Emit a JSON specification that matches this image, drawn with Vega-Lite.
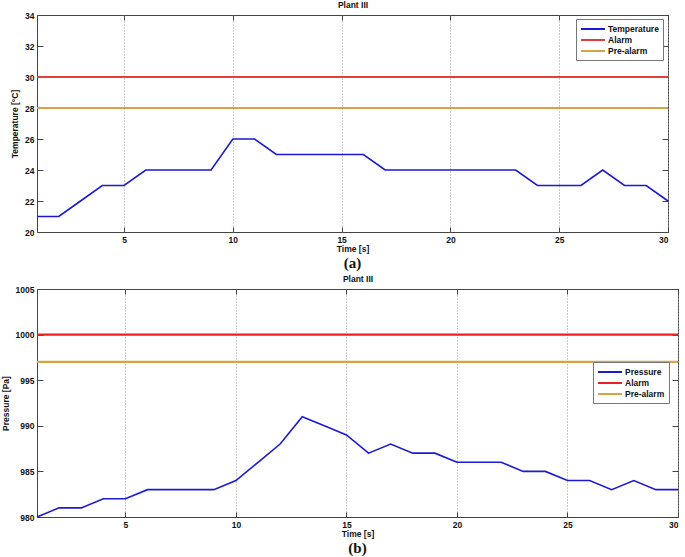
{
  "$schema": "https://vega.github.io/schema/vega-lite/v6.json",
  "padding": {"left": 0, "top": 0, "right": 5, "bottom": 0},
  "background": "white",
  "datasets": {
    "temperature": [
      {"t":1,"v":21,"s":"Temperature"},{"t":2,"v":21,"s":"Temperature"},{"t":3,"v":22,"s":"Temperature"},{"t":4,"v":23,"s":"Temperature"},{"t":5,"v":23,"s":"Temperature"},
      {"t":6,"v":24,"s":"Temperature"},{"t":7,"v":24,"s":"Temperature"},{"t":8,"v":24,"s":"Temperature"},{"t":9,"v":24,"s":"Temperature"},{"t":10,"v":26,"s":"Temperature"},
      {"t":11,"v":26,"s":"Temperature"},{"t":12,"v":25,"s":"Temperature"},{"t":13,"v":25,"s":"Temperature"},{"t":14,"v":25,"s":"Temperature"},{"t":15,"v":25,"s":"Temperature"},
      {"t":16,"v":25,"s":"Temperature"},{"t":17,"v":24,"s":"Temperature"},{"t":18,"v":24,"s":"Temperature"},{"t":19,"v":24,"s":"Temperature"},{"t":20,"v":24,"s":"Temperature"},
      {"t":21,"v":24,"s":"Temperature"},{"t":22,"v":24,"s":"Temperature"},{"t":23,"v":24,"s":"Temperature"},{"t":24,"v":23,"s":"Temperature"},{"t":25,"v":23,"s":"Temperature"},
      {"t":26,"v":23,"s":"Temperature"},{"t":27,"v":24,"s":"Temperature"},{"t":28,"v":23,"s":"Temperature"},{"t":29,"v":23,"s":"Temperature"},{"t":30,"v":22,"s":"Temperature"}
    ],
    "tempLimits": [
      {"t":1,"v":30,"s":"Alarm"},{"t":30,"v":30,"s":"Alarm"},
      {"t":1,"v":28,"s":"Pre-alarm"},{"t":30,"v":28,"s":"Pre-alarm"}
    ],
    "pressure": [
      {"t":1,"v":980,"s":"Pressure"},{"t":2,"v":981,"s":"Pressure"},{"t":3,"v":981,"s":"Pressure"},{"t":4,"v":982,"s":"Pressure"},{"t":5,"v":982,"s":"Pressure"},
      {"t":6,"v":983,"s":"Pressure"},{"t":7,"v":983,"s":"Pressure"},{"t":8,"v":983,"s":"Pressure"},{"t":9,"v":983,"s":"Pressure"},{"t":10,"v":984,"s":"Pressure"},
      {"t":11,"v":986,"s":"Pressure"},{"t":12,"v":988,"s":"Pressure"},{"t":13,"v":991,"s":"Pressure"},{"t":14,"v":990,"s":"Pressure"},{"t":15,"v":989,"s":"Pressure"},
      {"t":16,"v":987,"s":"Pressure"},{"t":17,"v":988,"s":"Pressure"},{"t":18,"v":987,"s":"Pressure"},{"t":19,"v":987,"s":"Pressure"},{"t":20,"v":986,"s":"Pressure"},
      {"t":21,"v":986,"s":"Pressure"},{"t":22,"v":986,"s":"Pressure"},{"t":23,"v":985,"s":"Pressure"},{"t":24,"v":985,"s":"Pressure"},{"t":25,"v":984,"s":"Pressure"},
      {"t":26,"v":984,"s":"Pressure"},{"t":27,"v":983,"s":"Pressure"},{"t":28,"v":984,"s":"Pressure"},{"t":29,"v":983,"s":"Pressure"},{"t":30,"v":983,"s":"Pressure"}
    ],
    "pressLimits": [
      {"t":1,"v":1000,"s":"Alarm"},{"t":30,"v":1000,"s":"Alarm"},
      {"t":1,"v":997,"s":"Pre-alarm"},{"t":30,"v":997,"s":"Pre-alarm"}
    ]
  },
  "vconcat": [
    {
      "width": 631,
      "height": 217,
      "title": {"text": "(a)", "orient": "bottom", "font": "Liberation Serif", "fontSize": 15, "fontWeight": "bold", "color": "#111", "offset": 3},
      "layer": [
        {
          "data": {"name": "temperature"},
          "mark": {"type": "line", "strokeWidth": 1.6},
          "encoding": {
            "x": {"field": "t", "type": "quantitative", "scale": {"domain": [1, 30], "nice": false},
                  "axis": {"orient": "bottom", "title": "Time [s]", "values": [5,10,15,20,25,30], "format": "d", "grid": true, "tickSize": -5, "labelPadding": 8, "titlePadding": 1}},
            "y": {"field": "v", "type": "quantitative", "scale": {"domain": [20, 34], "nice": false},
                  "axis": {"orient": "left", "title": "Temperature [°C]", "values": [20,22,24,26,28,30,32,34], "format": "d", "grid": false, "tickSize": -6, "labelPadding": 9, "titlePadding": 5}},
            "color": {"field": "s", "type": "nominal",
                      "scale": {"domain": ["Temperature", "Alarm", "Pre-alarm"], "range": ["#1a1ad4", "#e2403a", "#d9a245"]},
                      "legend": {"orient": "none", "legendX": 539, "legendY": 4, "title": null}}
          }
        },
        {
          "data": {"name": "tempLimits"},
          "mark": {"type": "line", "strokeWidth": 2.2},
          "encoding": {
            "x": {"field": "t", "type": "quantitative", "scale": {"domain": [1, 30], "nice": false},
                  "axis": {"orient": "top", "title": "Plant III", "values": [5,10,15,20,25,30], "labels": false, "grid": false, "tickSize": -5, "titlePadding": 5}},
            "y": {"field": "v", "type": "quantitative", "scale": {"domain": [20, 34], "nice": false},
                  "axis": {"orient": "right", "title": null, "values": [20,22,24,26,28,30,32,34], "labels": false, "grid": false, "tickSize": -6}},
            "color": {"field": "s", "type": "nominal"}
          }
        }
      ],
      "resolve": {"axis": {"x": "independent", "y": "independent"}}
    },
    {
      "width": 641,
      "height": 228,
      "title": {"text": "(b)", "orient": "bottom", "font": "Liberation Serif", "fontSize": 15, "fontWeight": "bold", "color": "#111", "offset": 3},
      "layer": [
        {
          "data": {"name": "pressure"},
          "mark": {"type": "line", "strokeWidth": 1.6},
          "encoding": {
            "x": {"field": "t", "type": "quantitative", "scale": {"domain": [1, 30], "nice": false},
                  "axis": {"orient": "bottom", "title": "Time [s]", "values": [5,10,15,20,25,30], "format": "d", "grid": true, "tickSize": -5, "labelPadding": 8, "titlePadding": 1}},
            "y": {"field": "v", "type": "quantitative", "scale": {"domain": [980, 1005], "nice": false, "zero": false},
                  "axis": {"orient": "left", "title": "Pressure [Pa]", "values": [980,985,990,995,1000,1005], "format": "d", "grid": false, "tickSize": -6, "labelPadding": 9, "titlePadding": 5}},
            "color": {"field": "s", "type": "nominal",
                      "scale": {"domain": ["Pressure", "Alarm", "Pre-alarm"], "range": ["#1a1ad4", "#ec2020", "#d9a245"]},
                      "legend": {"orient": "none", "legendX": 556, "legendY": 73, "title": null}}
          }
        },
        {
          "data": {"name": "pressLimits"},
          "mark": {"type": "line", "strokeWidth": 2.2},
          "encoding": {
            "x": {"field": "t", "type": "quantitative", "scale": {"domain": [1, 30], "nice": false},
                  "axis": {"orient": "top", "title": "Plant III", "values": [5,10,15,20,25,30], "labels": false, "grid": false, "tickSize": -5, "titlePadding": 5}},
            "y": {"field": "v", "type": "quantitative", "scale": {"domain": [980, 1005], "nice": false, "zero": false},
                  "axis": {"orient": "right", "title": null, "values": [980,985,990,995,1000,1005], "labels": false, "grid": false, "tickSize": -6}},
            "color": {"field": "s", "type": "nominal"}
          }
        }
      ],
      "resolve": {"axis": {"x": "independent", "y": "independent"}}
    }
  ],
  "spacing": 2,
  "resolve": {"scale": {"color": "independent", "x": "independent", "y": "independent"}, "legend": {"color": "independent"}},
  "config": {
    "view": {"stroke": "#444", "strokeWidth": 1},
    "axis": {
      "domain": false,
      "labelFont": "Liberation Sans",
      "labelFontSize": 8.5,
      "labelFontWeight": "bold",
      "labelColor": "#111",
      "titleFont": "Liberation Sans",
      "titleFontSize": 8.5,
      "titleFontWeight": "bold",
      "titleColor": "#111",
      "tickColor": "#444",
      "tickWidth": 1,
      "gridColor": "#999",
      "gridDash": [1, 2],
      "gridWidth": 1
    },
    "legend": {
      "fillColor": "white",
      "strokeColor": "#777",
      "padding": 4,
      "symbolType": "M-1,0H3.8",
      "symbolSize": 100,
      "symbolStrokeWidth": 2,
      "symbolFillColor": "transparent",
      "labelFont": "Liberation Sans",
      "labelFontSize": 8.5,
      "labelFontWeight": "bold",
      "labelColor": "#111",
      "labelOffset": 16,
      "rowPadding": 0
    }
  }
}
